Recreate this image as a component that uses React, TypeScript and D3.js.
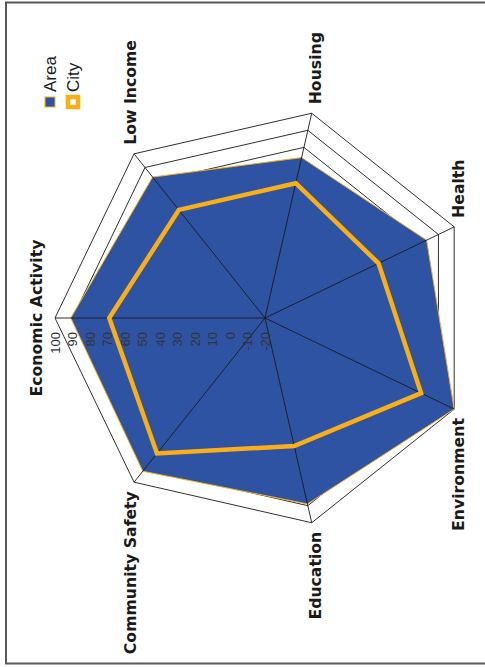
import * as d3 from 'd3';

const categories = ['Economic Activity', 'Low Income', 'Housing', 'Health', 'Environment', 'Education', 'Community Safety'];
const areaValues = [91, 83, 74, 82.5, 100, 89, 92];
const cityValues = [69, 59, 59, 52, 79, 55, 79];
const tickValues = [-20, -10, 0, 10, 20, 30, 40, 50, 60, 70, 80, 90, 100];
const seriesNames = ['Area', 'City'];

const W = 485;
const H = 667;
const cx = 265;
const cy = 318;
const R = 210;

const BLUE = '#2F53A3';
const ORANGE = '#FBAF17';

export default function App() {
  const r = d3.scaleLinear().domain([-20, 100]).range([0, R]);
  const angle = d3.scaleLinear().domain([0, categories.length]).range([0, 2 * Math.PI]);

  // local frame: angle measured clockwise from top, the whole group is turned -90deg
  const pt = (i: number, v: number): [number, number] => {
    const a = angle(i);
    return [r(v) * Math.sin(a), -r(v) * Math.cos(a)];
  };

  const radial = d3.lineRadial<number>()
    .angle((_, i) => angle(i))
    .radius(v => r(v))
    .curve(d3.curveLinearClosed);

  const gridPath = (t: number) => radial(categories.map(() => t)) || '';

  const labelFont = '"DejaVu Sans", Verdana, sans-serif';
  const plainFont = '"Liberation Sans", Arial, sans-serif';

  return (
    <div style={{ position: 'fixed', left: 0, top: 0, width: W, height: H, background: '#fff' }}>
      <svg width={W} height={H} style={{ display: 'block' }}>
        <rect x={6} y={2.5} width={490} height={661} fill="#fff" stroke="#595959" strokeWidth={2} />
        <g transform={`translate(${cx},${cy}) rotate(-90)`}>
          {tickValues.map(t => (
            <path key={'g' + t} d={gridPath(t)} fill="none" stroke="#1a1a1a" strokeWidth={0.9} />
          ))}

          <path d={radial(areaValues) || ''} fill={BLUE} stroke={ORANGE} strokeWidth={1} strokeLinejoin="miter" />

          {categories.map((c, i) => {
            const [x, y] = pt(i, 100);
            return <line key={'s' + c} x1={0} y1={0} x2={x} y2={y} stroke="#1a1a1a" strokeWidth={0.9} />;
          })}

          <path d={radial(cityValues) || ''} fill="none" stroke={ORANGE} strokeWidth={4.5} strokeLinejoin="miter" />

          {tickValues.map(t => (
            <text
              key={'t' + t}
              x={-14}
              y={-r(t)}
              textAnchor="end"
              dominantBaseline="central"
              fontFamily={plainFont}
              fontSize={13}
              fill="#333"
            >
              {t}
            </text>
          ))}

          {categories.map((c, i) => {
            const [x, y] = pt(i, 100);
            if (Math.abs(x) < 1) {
              return (
                <text key={'l' + c} x={x} y={y - 13} textAnchor="middle" fontFamily={labelFont}
                  fontWeight="bold" fontSize={15.7} fill="#1a1a1a">
                  {c}
                </text>
              );
            }
            const sx = Math.sign(x);
            const sy = Math.sign(y);
            return (
              <text key={'l' + c} x={x + sx * 9} y={y + sy * 4} textAnchor={sx > 0 ? 'start' : 'end'}
                dominantBaseline="central" fontFamily={labelFont} fontWeight="bold" fontSize={15.7} fill="#1a1a1a">
                {c}
              </text>
            );
          })}

          {seriesNames.map((s, i) => {
            const lx = 216;
            const ly = -215 + i * 23;
            return (
              <g key={'lg' + s}>
                {i === 0 ? (
                  <rect x={lx - 5} y={ly - 5} width={10} height={10} fill={BLUE} stroke={ORANGE} strokeWidth={1} />
                ) : (
                  <rect x={lx - 5} y={ly - 5} width={10} height={10} fill="#fff" stroke={ORANGE} strokeWidth={4.5} />
                )}
                <text x={lx + 10} y={ly} dominantBaseline="central" fontFamily={plainFont} fontSize={17} fill="#1a1a1a">
                  {s}
                </text>
              </g>
            );
          })}
        </g>
      </svg>
    </div>
  );
}
